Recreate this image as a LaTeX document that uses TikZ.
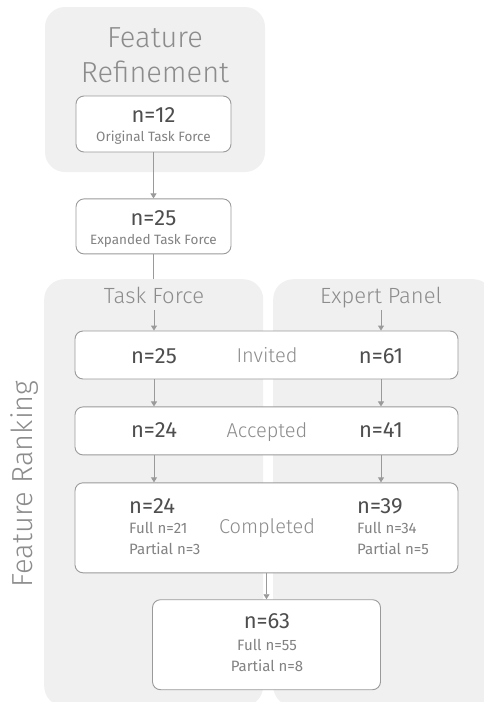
\documentclass[tikz,border=0pt]{standalone}
\usepackage{fontspec}
\setmainfont{Fira Sans}
\newfontfamily\lightfont{Fira Sans Light}
\usetikzlibrary{arrows.meta,positioning}
\definecolor{panelbg}{HTML}{F0F0F0}
\definecolor{headgray}{HTML}{8C8C8C}
\definecolor{numgray}{HTML}{4E4E4E}
\definecolor{subgray}{HTML}{828282}
\definecolor{edgegray}{HTML}{9A9A9A}
\tikzset{
  panel/.style={fill=panelbg, rounded corners=20pt, inner sep=0pt},
  stage/.style={draw=edgegray, line width=0.9pt, fill=white, rounded corners=8pt, inner sep=0pt},
  head/.style={text=headgray, font=\lightfont\fontsize{29}{35}\selectfont, align=center, inner sep=0pt},
  colhead/.style={text=headgray, font=\lightfont\fontsize{22}{25}\selectfont, inner sep=0pt},
  rowlabel/.style={text=headgray, font=\lightfont\fontsize{20}{22}\selectfont, inner sep=0pt},
  count/.style={text=numgray, font=\fontsize{22}{24}\selectfont, inner sep=0pt},
  tally/.style={text=subgray, font=\fontsize{13.5}{20.5}\selectfont, inner sep=0pt},
  split/.style={tally, font=\fontsize{15}{20.5}\selectfont},
  link/.style={-{Triangle[length=5pt,width=6pt]}, line width=0.9pt, draw=edgegray}
}
\begin{document}
\begin{tikzpicture}[x=1pt, y=1pt]
  \useasboundingbox (0,0) rectangle (484,-702);

  \node[panel, minimum width=220pt, minimum height=165pt] (refine) at (155,-89.5) {};
  \node[head, anchor=north] (refinetitle) at (155,-27) {Feature\\Refinement};

  \node[stage, minimum width=155pt, minimum height=56pt] (orig) at (153.5,-124) {};
  \node[count, anchor=base] (orign) at ([yshift=-27pt]orig.north) {n=12};
  \node[tally, anchor=base] (origtext) at ([yshift=-46pt]orig.north) {Original Task Force};

  \node[stage, minimum width=155pt, minimum height=55pt, below=46pt of orig] (expanded) {};
  \node[count, anchor=base] (expn) at ([yshift=-27pt]expanded.north) {n=25};
  \node[tally, anchor=base] (exptext) at ([yshift=-46pt]expanded.north) {Expanded Task Force};

  \draw[link] (orig) -- (expanded);

  \draw[edgegray, line width=0.9pt] (expanded) -- (expanded |- 0,-279);

  \node[panel, minimum width=219pt, minimum height=427pt, anchor=north west] (tfpanel) at (44,-279) {};
  \node[panel, minimum width=220pt, minimum height=427pt, anchor=north west] (eppanel) at (273,-279) {};

  \node[head, rotate=90, anchor=base] (ranktitle) at (32,-484) {Feature Ranking};

  \node[colhead, anchor=base] (tftitle) at (154,-303) {Task Force};
  \node[colhead, anchor=base] (eptitle) at (381,-303) {Expert Panel};

  \node[stage, minimum width=383pt, minimum height=48pt] (invited) at (266.5,-355) {};
  \node[count, anchor=base] (tfinv) at (154,-363) {n=25};
  \node[rowlabel, anchor=base] (invtext) at (267,-362) {Invited};
  \node[count, anchor=base] (epinv) at (381,-363) {n=61};

  \node[stage, minimum width=383pt, minimum height=48pt, below=27pt of invited] (accepted) {};
  \node[count, anchor=base] (tfacc) at (154,-437) {n=24};
  \node[rowlabel, anchor=base] (acctext) at (267,-437) {Accepted};
  \node[count, anchor=base] (epacc) at (381,-437) {n=41};

  \node[stage, minimum width=383pt, minimum height=90pt, below=27pt of accepted] (completed) {};
  \node[count, anchor=base west] (tfdone) at (129,-513) {n=24};
  \node[split, anchor=base west, align=left] (tfsplit) at (129,-554) {Full n=21\\Partial n=3};
  \node[rowlabel, anchor=base] (donetext) at (267,-533) {Completed};
  \node[count, anchor=base west] (epdone) at (357,-513) {n=39};
  \node[split, anchor=base west, align=left] (epsplit) at (357,-554) {Full n=34\\Partial n=5};

  \node[stage, minimum width=228pt, minimum height=90pt, below=26pt of completed] (final) {};
  \node[count, anchor=base] (finaln) at (267,-628) {n=63};
  \node[split, anchor=base, align=center] (finalsplit) at (267,-671) {Full n=55\\Partial n=8};

  \draw[link] ([yshift=-7pt]tftitle.base) -- (tftitle |- invited.north);
  \draw[link] ([yshift=-7pt]eptitle.base) -- (eptitle |- invited.north);
  \draw[link] (tfinv |- invited.south) -- (tfacc |- accepted.north);
  \draw[link] (epinv |- invited.south) -- (epacc |- accepted.north);
  \draw[link] (tfacc |- accepted.south) -- (tfacc |- completed.north);
  \draw[link] (epacc |- accepted.south) -- (epacc |- completed.north);
  \draw[link] (completed) -- (final);
\end{tikzpicture}
\end{document}
